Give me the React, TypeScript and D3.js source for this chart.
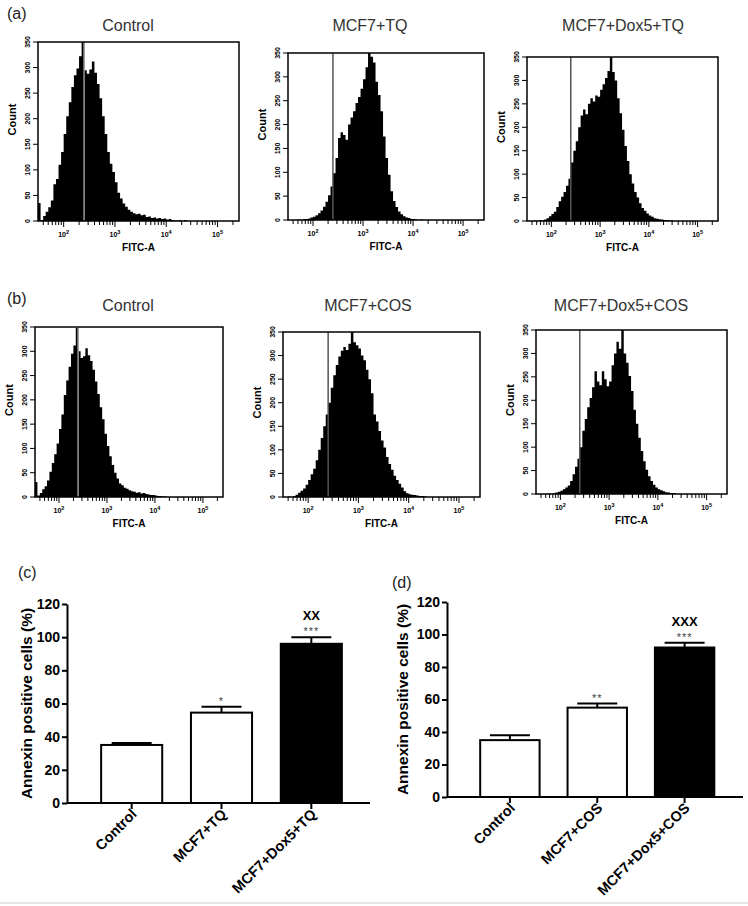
import { useEffect, useRef } from "react";
import { select, scaleLog, scaleLinear, scaleBand, area, curveStepAfter, axisLeft } from "d3";

// FITC-A histograms: counts per bin, bins are 0.05 decades wide starting at 10^1.5
const binStart = 1.5;
const binStep = 0.05;
const fitcMin = 31.6;
const fitcMax = 262144;
const gateFitc = 250;

const countTicks = [0, 50, 100, 150, 200, 250, 300, 350];
const decadeTicks = [2, 3, 4, 5];

const controlTQ = [35, 2, 10, 18, 27, 40, 72, 82, 110, 135, 170, 205, 232, 262, 285, 298, 322, 350, 295, 288, 296, 312, 290, 268, 240, 205, 170, 135, 112, 96, 76, 55, 44, 34, 28, 22, 18, 15, 13, 14, 11, 12, 8, 9, 6, 7, 5, 6, 4, 5, 3, 4, 2, 1, 1, 2, 0, 2, 0];
const mcf7TQ = [0, 0, 0, 0, 1, 0, 2, 2, 3, 5, 7, 10, 14, 20, 28, 38, 52, 70, 98, 130, 172, 184, 178, 168, 200, 215, 228, 245, 258, 275, 295, 320, 350, 342, 330, 290, 262, 228, 175, 130, 95, 60, 40, 27, 18, 12, 8, 5, 4, 2, 2, 1, 0, 1];
const dox5TQ = [0, 0, 0, 1, 0, 2, 1, 3, 6, 10, 15, 20, 30, 42, 52, 62, 75, 90, 125, 150, 170, 200, 225, 238, 228, 250, 262, 255, 268, 265, 280, 292, 305, 320, 350, 318, 300, 262, 230, 195, 160, 128, 100, 80, 62, 50, 38, 28, 22, 16, 12, 9, 6, 5, 4, 3, 2, 2, 1, 1, 0];
const controlCOS = [31, 3, 8, 16, 22, 34, 52, 70, 88, 110, 140, 170, 210, 240, 268, 295, 312, 348, 300, 286, 290, 306, 292, 280, 262, 238, 212, 185, 160, 130, 105, 84, 66, 50, 38, 28, 24, 19, 17, 14, 12, 11, 9, 10, 7, 8, 6, 5, 4, 4, 3, 2, 2, 1, 1, 0];
const mcf7COS = [0, 0, 1, 0, 2, 5, 9, 13, 18, 26, 36, 48, 60, 78, 100, 125, 150, 175, 200, 232, 258, 280, 298, 310, 318, 312, 325, 350, 328, 322, 315, 300, 290, 270, 250, 220, 175, 160, 140, 120, 105, 85, 70, 58, 45, 36, 28, 20, 12, 8, 6, 5, 4, 3, 2, 2, 1];
const dox5COS = [0, 0, 0, 0, 0, 1, 0, 2, 3, 5, 7, 10, 14, 18, 28, 42, 58, 75, 100, 135, 160, 185, 205, 228, 262, 240, 232, 262, 245, 230, 240, 275, 300, 325, 310, 350, 300, 280, 252, 220, 180, 150, 120, 92, 70, 52, 38, 28, 20, 14, 10, 8, 6, 4, 3, 2, 2, 1];

// Annexin bar charts
const percentTicks = [0, 20, 40, 60, 80, 100, 120];
const categoriesTQ = ["Control", "MCF7+TQ", "MCF7+Dox5+TQ"];
const valuesTQ = [35, 54.5, 96];
const errorsTQ = [1.2, 3.5, 4];
const starsTQ = ["", "*", "***"];
const crossTQ = ["", "", "XX"];

const categoriesCOS = ["Control", "MCF7+COS", "MCF7+Dox5+COS"];
const valuesCOS = [35, 55, 92];
const errorsCOS = [3, 2.5, 3];
const starsCOS = ["", "**", "***"];
const crossCOS = ["", "", "XXX"];

const barFills = ["#fff", "#fff", "#000"];

const FONT = "'Liberation Sans', Arial, sans-serif";

const App = () => {
  const ref = useRef<SVGSVGElement>(null);

  useEffect(() => {
    if (!ref.current) return;
    const svg = select(ref.current);
    svg.selectAll("*").remove();

    svg.append("rect").attr("width", 748).attr("height", 906).attr("fill", "#fff");

    const hist = [
      { data: controlTQ, title: "Control", tx: 128, ty: 31, left: 38, top: 42, right: 239, bottom: 221, gate: "#999" },
      { data: mcf7TQ, title: "MCF7+TQ", tx: 370, ty: 31, left: 288, top: 53, right: 484, bottom: 220, gate: "#555" },
      { data: dox5TQ, title: "MCF7+Dox5+TQ", tx: 623, ty: 31, left: 527, top: 57, right: 718, bottom: 221, gate: "#555" },
      { data: controlCOS, title: "Control", tx: 128, ty: 311, left: 35, top: 327, right: 223, bottom: 497, gate: "#999" },
      { data: mcf7COS, title: "MCF7+COS", tx: 368, ty: 311, left: 283, top: 332, right: 480, bottom: 497, gate: "#555" },
      { data: dox5COS, title: "MCF7+Dox5+COS", tx: 621, ty: 311, left: 536, top: 330, right: 727, bottom: 494, gate: "#555" },
    ];

    hist.forEach((p) => {
      const x = scaleLog().domain([fitcMin, fitcMax]).range([p.left, p.right]);
      const y = scaleLinear().domain([0, 350]).range([p.bottom, p.top]);
      const g = svg.append("g");

      const pts = p.data.map((c, i) => ({ v: Math.pow(10, binStart + i * binStep), c }));
      pts.push({ v: Math.pow(10, binStart + p.data.length * binStep), c: 0 });
      const a = area<any>()
        .x((d) => x(d.v))
        .y0(p.bottom)
        .y1((d) => y(d.c))
        .curve(curveStepAfter);
      g.append("path").datum(pts).attr("d", a).attr("fill", "#000");

      // gate
      g.append("line")
        .attr("x1", x(gateFitc)).attr("x2", x(gateFitc))
        .attr("y1", p.top).attr("y2", p.bottom)
        .attr("stroke", p.gate).attr("stroke-width", 1.5);

      // frame
      g.append("rect")
        .attr("x", p.left).attr("y", p.top)
        .attr("width", p.right - p.left).attr("height", p.bottom - p.top)
        .attr("fill", "none").attr("stroke", "#000").attr("stroke-width", 1.5);

      // count ticks
      countTicks.forEach((t) => {
        g.append("line")
          .attr("x1", p.left - 5).attr("x2", p.left)
          .attr("y1", y(t)).attr("y2", y(t))
          .attr("stroke", "#000").attr("stroke-width", 1);
        g.append("text")
          .attr("x", p.left - 10).attr("y", y(t))
          .attr("transform", `rotate(-90, ${p.left - 10}, ${y(t)})`)
          .attr("text-anchor", "middle").attr("dy", "0.35em")
          .attr("font-family", FONT).attr("font-size", 7).attr("font-weight", "bold")
          .text(t.toString());
      });

      // minor + major log ticks
      for (let e = 1; e <= 5; e++) {
        for (let k = 1; k <= 9; k++) {
          const v = k * Math.pow(10, e);
          if (v < fitcMin || v > fitcMax) continue;
          g.append("line")
            .attr("x1", x(v)).attr("x2", x(v))
            .attr("y1", p.bottom).attr("y2", p.bottom + (k === 1 ? 6 : 4))
            .attr("stroke", "#000").attr("stroke-width", 1);
        }
      }
      decadeTicks.forEach((d) => {
        const t = g.append("text")
          .attr("x", x(Math.pow(10, d))).attr("y", p.bottom + 16)
          .attr("text-anchor", "middle")
          .attr("font-family", FONT).attr("font-size", 7).attr("font-weight", "bold");
        t.append("tspan").text("10");
        t.append("tspan").attr("dy", -3).attr("font-size", 5.5).text(d.toString());
      });

      g.append("text")
        .attr("x", (p.left + p.right) / 2).attr("y", p.bottom + 30)
        .attr("text-anchor", "middle")
        .attr("font-family", FONT).attr("font-size", 10).attr("font-weight", "bold")
        .text("FITC-A");

      const cy = (p.top + p.bottom) / 2 - 12;
      g.append("text")
        .attr("x", p.left - 26).attr("y", cy)
        .attr("transform", `rotate(-90, ${p.left - 26}, ${cy})`)
        .attr("text-anchor", "middle").attr("dy", "0.35em")
        .attr("font-family", FONT).attr("font-size", 11).attr("font-weight", "bold")
        .text("Count");

      g.append("text")
        .attr("x", p.tx).attr("y", p.ty)
        .attr("text-anchor", "middle")
        .attr("font-family", FONT).attr("font-size", 16).attr("fill", "#333")
        .text(p.title);
    });

    // panel letters
    [
      { t: "(a)", x: 7, y: 19 },
      { t: "(b)", x: 7, y: 304 },
      { t: "(c)", x: 18, y: 578 },
      { t: "(d)", x: 392, y: 588 },
    ].forEach((l) =>
      svg.append("text")
        .attr("x", l.x).attr("y", l.y)
        .attr("font-family", FONT).attr("font-size", 16).attr("fill", "#222")
        .text(l.t)
    );

    const bars = [
      { cats: categoriesTQ, vals: valuesTQ, errs: errorsTQ, stars: starsTQ, cross: crossTQ, axisX: 67, axisEnd: 370, y0: 803, y120: 604, bandEnd: 376, labelX: 27 },
      { cats: categoriesCOS, vals: valuesCOS, errs: errorsCOS, stars: starsCOS, cross: crossCOS, axisX: 447, axisEnd: 743, y0: 797, y120: 602, bandEnd: 747.5, labelX: 403 },
    ];

    bars.forEach((b) => {
      const g = svg.append("g");
      const y = scaleLinear().domain([0, 120]).range([b.y0, b.y120]);
      const x = scaleBand<string>()
        .domain(b.cats)
        .range([b.axisX, b.bandEnd])
        .paddingInner(0.32)
        .paddingOuter(0.38);
      const bw = x.bandwidth();

      b.cats.forEach((c, i) => {
        const cx = (x(c) as number) + bw / 2;
        const top = y(b.vals[i]);
        const errTop = y(b.vals[i] + b.errs[i]);
        g.append("line")
          .attr("x1", cx).attr("x2", cx).attr("y1", top).attr("y2", errTop)
          .attr("stroke", "#000").attr("stroke-width", 2);
        g.append("line")
          .attr("x1", cx - 20).attr("x2", cx + 20).attr("y1", errTop).attr("y2", errTop)
          .attr("stroke", "#000").attr("stroke-width", 2);
        g.append("rect")
          .attr("x", x(c) as number).attr("y", top)
          .attr("width", bw).attr("height", b.y0 - top)
          .attr("fill", barFills[i]).attr("stroke", "#000").attr("stroke-width", 2);

        if (b.stars[i]) {
          g.append("text")
            .attr("x", cx).attr("y", errTop - 2)
            .attr("text-anchor", "middle")
            .attr("font-family", FONT).attr("font-size", 11).attr("fill", "#444")
            .attr("letter-spacing", 1)
            .text(b.stars[i]);
        }
        if (b.cross[i]) {
          g.append("text")
            .attr("x", cx).attr("y", errTop - 17)
            .attr("text-anchor", "middle")
            .attr("font-family", FONT).attr("font-size", 13).attr("font-weight", "bold")
            .text(b.cross[i]);
        }

        g.append("line")
          .attr("x1", cx).attr("x2", cx).attr("y1", b.y0).attr("y2", b.y0 + 6)
          .attr("stroke", "#000").attr("stroke-width", 2);
        const lx = cx + 6;
        const ly = b.y0 + 12;
        g.append("text")
          .attr("x", lx).attr("y", ly)
          .attr("transform", `rotate(-45, ${lx}, ${ly})`)
          .attr("text-anchor", "end")
          .attr("font-family", FONT).attr("font-size", 14.5).attr("font-weight", "bold")
          .text(c);
      });

      g.append("line")
        .attr("x1", b.axisX).attr("x2", b.axisEnd).attr("y1", b.y0).attr("y2", b.y0)
        .attr("stroke", "#000").attr("stroke-width", 2);

      const ax = g.append("g")
        .attr("transform", `translate(${b.axisX},0)`)
        .call(axisLeft(y).tickValues(percentTicks).tickSize(5).tickSizeOuter(0).tickPadding(2));
      ax.select(".domain").attr("stroke-width", 2);
      ax.selectAll(".tick line").attr("stroke-width", 2);
      ax.selectAll(".tick text")
        .attr("font-family", FONT).attr("font-size", 14).attr("font-weight", "bold").attr("fill", "#000");

      const ly = (b.y0 + b.y120) / 2;
      g.append("text")
        .attr("x", b.labelX).attr("y", ly)
        .attr("transform", `rotate(-90, ${b.labelX}, ${ly})`)
        .attr("text-anchor", "middle").attr("dy", "0.35em")
        .attr("font-family", FONT).attr("font-size", 15.5).attr("font-weight", "bold")
        .text("Annexin positive cells (%)");
    });

    svg.append("line")
      .attr("x1", 0).attr("x2", 748).attr("y1", 903).attr("y2", 903)
      .attr("stroke", "#ccc").attr("stroke-width", 1);
  }, []);

  return (
    <svg
      ref={ref}
      width={748}
      height={906}
      style={{ position: "absolute", left: 0, top: 0 }}
    />
  );
};

export default App;
